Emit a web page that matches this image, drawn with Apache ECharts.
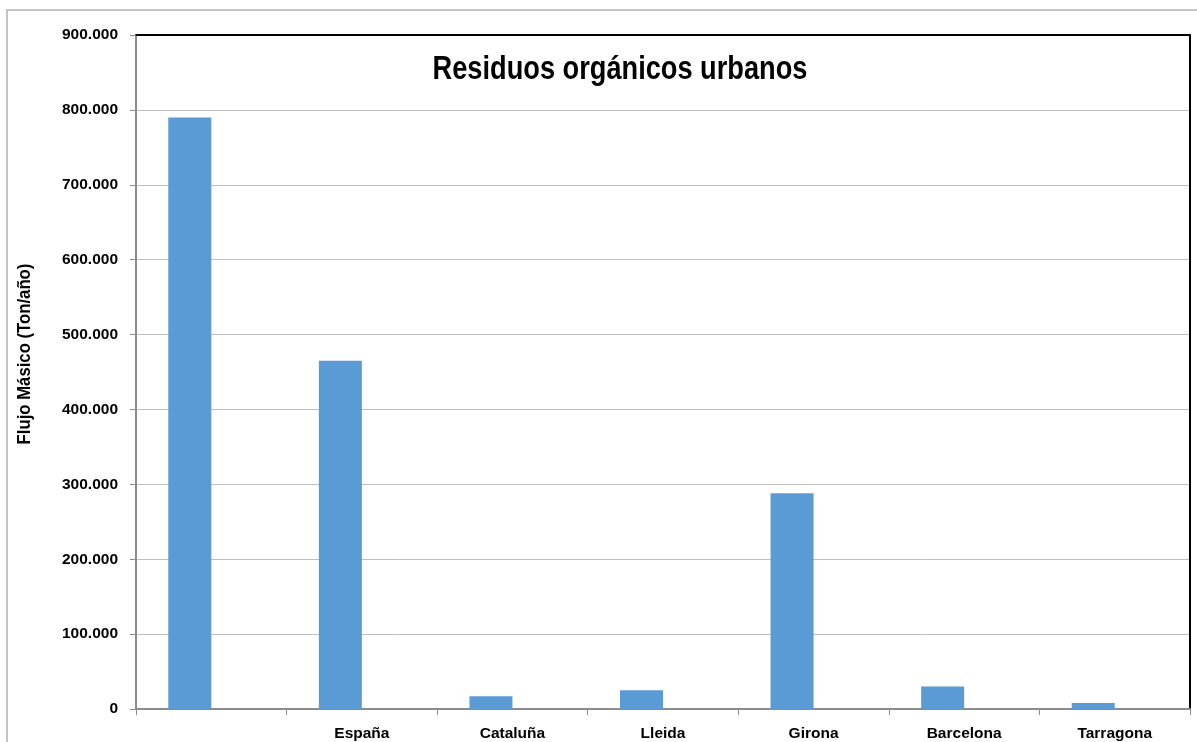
<!DOCTYPE html>
<html>
<head>
<meta charset="utf-8">
<script src="https://cdn.jsdelivr.net/npm/echarts@6/dist/echarts.min.js"></script>
<style>
html,body{margin:0;padding:0;background:#fff;}
#chart{width:1197px;height:742px;}
</style>
</head>
<body>
<div id="chart"></div>
<script>
const categories = ['', 'España', 'Cataluña', 'Lleida', 'Girona', 'Barcelona', 'Tarragona'];
const values = [790000, 465000, 17000, 25000, 288000, 30000, 8000];
const emptySeries = [null, null, null, null, null, null, null];
const yTicks = { min: 0, max: 900000, interval: 100000 };
const titleText = 'Residuos orgánicos urbanos';
const yName = 'Flujo Másico (Ton/año)';

const FONT = '"Liberation Sans", Arial, sans-serif';
function fmt(v) {
  return String(Math.round(v)).replace(/\B(?=(\d{3})+(?!\d))/g, '.');
}

const chart = echarts.init(document.getElementById('chart'), null, { renderer: 'canvas' });
chart.setOption({
  backgroundColor: '#fff',
  animation: false,
  graphic: [{
    type: 'rect',
    shape: { x: 7, y: 10, width: 1300, height: 900 },
    style: { fill: 'none', stroke: '#c4c4c4', lineWidth: 2 },
    silent: true, z: -10
  }, {
    type: 'text',
    x: 620, y: 70,
    scaleX: 0.8,
    style: {
      text: titleText, fontFamily: FONT, fontWeight: 'bold', fontSize: 34,
      fill: '#000', align: 'center', verticalAlign: 'middle'
    },
    silent: true, z: 10
  }, {
    type: 'text',
    x: 25, y: 354,
    rotation: Math.PI / 2,
    scaleX: 0.88,
    style: {
      text: yName, fontFamily: FONT, fontWeight: 'bold', fontSize: 19,
      fill: '#000', align: 'center', verticalAlign: 'middle'
    },
    silent: true, z: 10
  }],
  grid: { left: 136, right: 7, top: 35, bottom: 33, containLabel: false },
  xAxis: [{
    type: 'category',
    data: categories,
    boundaryGap: true,
    axisLine: { onZero: false, lineStyle: { color: '#8c8c8c', width: 2 } },
    axisTick: { show: true, length: 6, lineStyle: { color: '#8c8c8c' } },
    axisLabel: { fontFamily: FONT, fontWeight: 'bold', fontSize: 15.5, color: '#000', margin: 17 },
    splitLine: { show: false }
  }, {
    type: 'category',
    data: categories,
    position: 'top',
    axisLine: { onZero: false, lineStyle: { color: '#000', width: 2 } },
    axisTick: { show: false },
    axisLabel: { show: false }
  }],
  yAxis: [{
    type: 'value',
    min: yTicks.min, max: yTicks.max, interval: yTicks.interval,
    axisLine: { show: true, onZero: false, lineStyle: { color: '#8c8c8c', width: 2 } },
    axisTick: { show: true, length: 6, lineStyle: { color: '#8c8c8c' } },
    axisLabel: { fontFamily: FONT, fontWeight: 'bold', fontSize: 15.5, color: '#000', margin: 18, formatter: fmt },
    splitLine: { show: true, lineStyle: { color: '#bfbfbf', width: 1 } }
  }, {
    type: 'value',
    position: 'right',
    min: yTicks.min, max: yTicks.max, interval: yTicks.interval,
    axisLine: { show: true, onZero: false, lineStyle: { color: '#000', width: 2 } },
    axisTick: { show: false },
    axisLabel: { show: false },
    splitLine: { show: false }
  }],
  series: [{
    type: 'bar',
    data: values,
    barWidth: 43,
    barGap: '0%',
    itemStyle: { color: '#5B9BD5' }
  }, {
    type: 'bar',
    data: emptySeries,
    barWidth: 43,
    barGap: '0%',
    itemStyle: { color: '#ED7D31' }
  }]
});
</script>
</body>
</html>
